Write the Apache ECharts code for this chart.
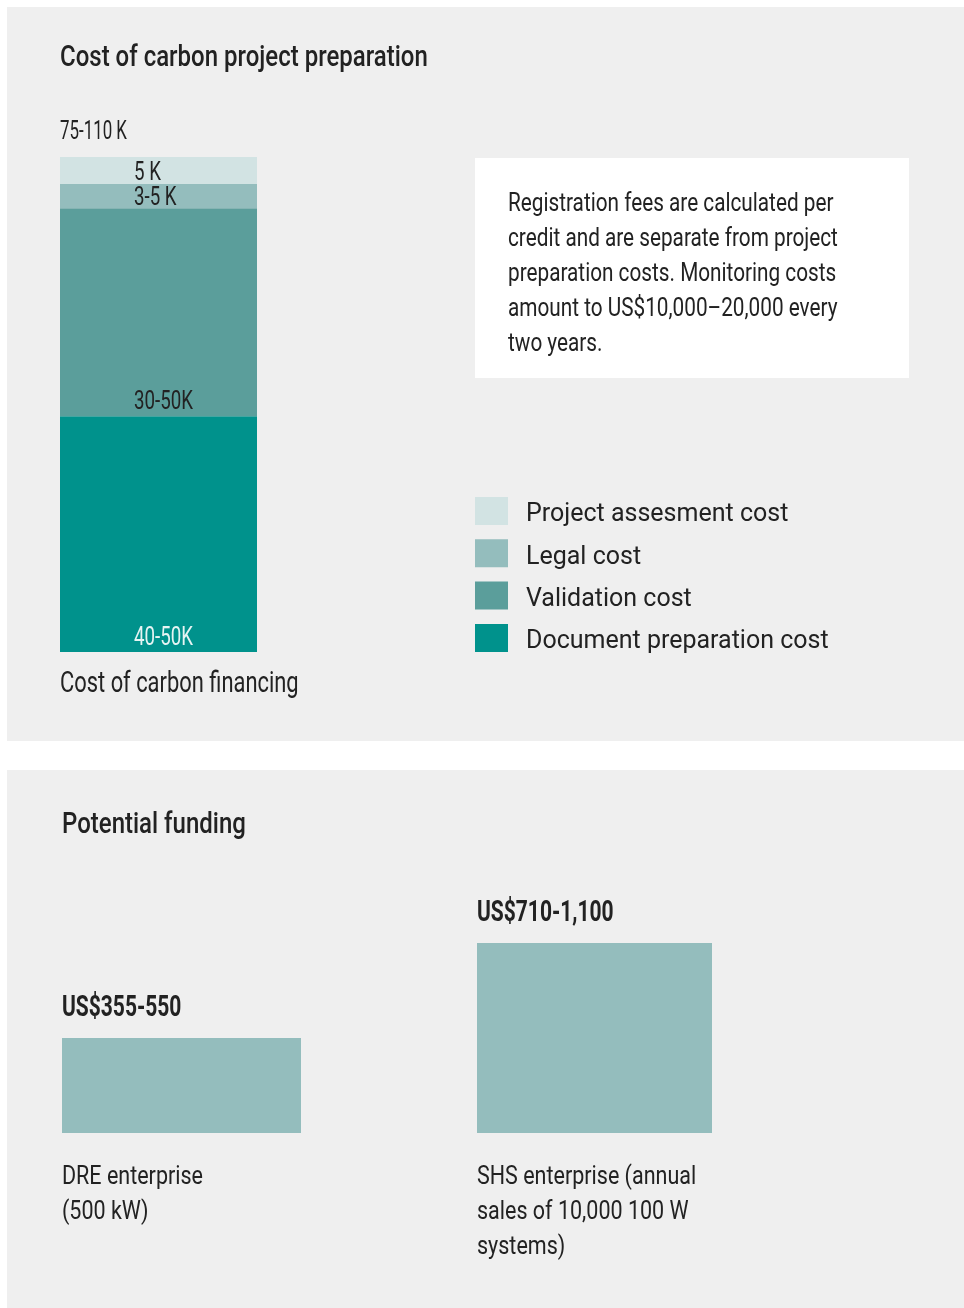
<!DOCTYPE html>
<html>
<head>
<meta charset="utf-8">
<title>Cost of carbon project preparation</title>
<script src="https://cdn.jsdelivr.net/npm/echarts@6/dist/echarts.min.js"></script>
<style>
  html, body { margin: 0; padding: 0; background: #fff; }
  #chart { width: 964px; height: 1308px; }
</style>
</head>
<body>
<div id="chart"></div>
<script>
// cost of carbon project preparation (K US$), bottom to top
const costNames = ['Document preparation cost', 'Validation cost', 'Legal cost', 'Project assesment cost']
const costValues = [47, 41.5, 4.8, 5.4]
const costLabels = ['40-50K', '30-50K', '3-5 K', '5 K']
const costColors = ['#00928c', '#5b9e9b', '#94bdbd', '#d2e3e3']
const legendOrder = ['Project assesment cost', 'Legal cost', 'Validation cost', 'Document preparation cost']

// potential funding (US$, midpoint of range)
const fundCategories = ['DRE enterprise\n(500 kW)', 'SHS enterprise (annual\nsales of 10,000 100 W\nsystems)']
const fundValues = [452.5, 905]
const fundLabels = ['US$355-550', 'US$710-1,100']

const FONT = "Roboto, 'Noto Sans', sans-serif"
const INK = '#222'

const chart = echarts.init(document.getElementById('chart'))

const costTotal = costValues.reduce((a, b) => a + b, 0)
const fundGridLeft = [62, 477]
const fundGridWidth = [239, 235]

const costSeries = costNames.map((name, i) => ({
  name: name,
  type: 'bar',
  stack: 'cost',
  xAxisIndex: 0,
  yAxisIndex: 0,
  barWidth: '100%',
  itemStyle: { color: costColors[i] },
  emphasis: { disabled: true },
  data: [costValues[i]]
}))

const fundSeries = fundValues.map((v, i) => ({
  name: fundLabels[i],
  type: 'bar',
  xAxisIndex: i + 1,
  yAxisIndex: i + 1,
  barWidth: '100%',
  itemStyle: { color: '#94bdbd' },
  emphasis: { disabled: true },
  data: [v]
}))

chart.setOption({
  animation: false,
  textStyle: { fontFamily: FONT },
  grid: [
    { left: 60, width: 197, top: 157, height: 495 },
    { left: fundGridLeft[0], width: fundGridWidth[0], top: 943, bottom: 175 },
    { left: fundGridLeft[1], width: fundGridWidth[1], top: 943, bottom: 175 }
  ],
  xAxis: [
    { type: 'category', gridIndex: 0, data: ['Cost'], show: false },
    { type: 'category', gridIndex: 1, data: [fundCategories[0]], show: false },
    { type: 'category', gridIndex: 2, data: [fundCategories[1]], show: false }
  ],
  yAxis: [
    { type: 'value', gridIndex: 0, min: 0, max: costTotal, show: false },
    { type: 'value', gridIndex: 1, min: 0, max: 905, show: false },
    { type: 'value', gridIndex: 2, min: 0, max: 905, show: false }
  ],
  legend: {
    data: legendOrder,
    orient: 'vertical',
    left: 470,
    top: 489.5,
    itemWidth: 33,
    itemHeight: 28,
    itemGap: 9.3,
    icon: 'rect',
    selectedMode: false,
    formatter: '{t|{name}}',
    textStyle: {
      fontFamily: FONT, fontSize: 25, color: INK, padding: [0, 0, 0, 13],
      rich: { t: { fontFamily: FONT, fontSize: 25, color: INK, lineHeight: 20, padding: [8, 0, 0, 0] } }
    }
  },
  series: costSeries.concat(fundSeries)
})

// condensed text: the reference face is narrow, so squeeze horizontally
function txt(x, y, text, size, scale, extra) {
  const style = Object.assign({
    text: text, fontFamily: FONT, fontSize: size, fill: INK,
    align: 'left', verticalAlign: 'middle'
  }, extra || {})
  const dy = style.verticalAlign === 'middle' ? 2.5 : 1.5
  return { type: 'text', x: x, y: y + dy, scaleX: scale, z: 100, style: style }
}

// labels on the stacked bar, placed with the axis scale
const labelGraphics = []
let cum = 0
costValues.forEach((v, i) => {
  const bottom = chart.convertToPixel({ gridIndex: 0 }, ['Cost', cum])[1]
  const top = chart.convertToPixel({ gridIndex: 0 }, ['Cost', cum + v])[1]
  cum += v
  const y = i < 2 ? bottom - 16 : (top + bottom) / 2
  labelGraphics.push(txt(134, y, costLabels[i], 26, 0.72, { fill: i === 0 ? '#e6f4f3' : INK }))
})

fundValues.forEach((v, i) => {
  const top = chart.convertToPixel({ gridIndex: i + 1 }, [fundCategories[i], v])[1]
  labelGraphics.push(txt(fundGridLeft[i], top - 32.5, fundLabels[i], 30, 0.7, { fontWeight: 'bold' }))
  labelGraphics.push(txt(fundGridLeft[i], 1158.5, fundCategories[i], 25, 0.86, { verticalAlign: 'top', lineHeight: 35 }))
})

chart.setOption({
  graphic: [
    { type: 'rect', z: -10, shape: { x: 7, y: 7, width: 957, height: 734 }, style: { fill: '#efefef' } },
    { type: 'rect', z: -10, shape: { x: 7, y: 770, width: 957, height: 538 }, style: { fill: '#efefef' } },
    { type: 'rect', z: -5, shape: { x: 475, y: 158, width: 434, height: 220 }, style: { fill: '#ffffff' } },
    txt(60, 56, 'Cost of carbon project preparation', 30, 0.8, { fontWeight: 500 }),
    txt(60, 129.5, '75-110 K', 26, 0.65),
    txt(60, 682.5, 'Cost of carbon financing', 29, 0.755),
    txt(508, 185.5,
      'Registration fees are calculated per\ncredit and are separate from project\npreparation costs. Monitoring costs\namount to US$10,000\u201320,000 every\ntwo years.',
      25, 0.83, { verticalAlign: 'top', lineHeight: 35 }),
    txt(62, 823, 'Potential funding', 30, 0.8, { fontWeight: 500 })
  ].concat(labelGraphics)
})
</script>
</body>
</html>
